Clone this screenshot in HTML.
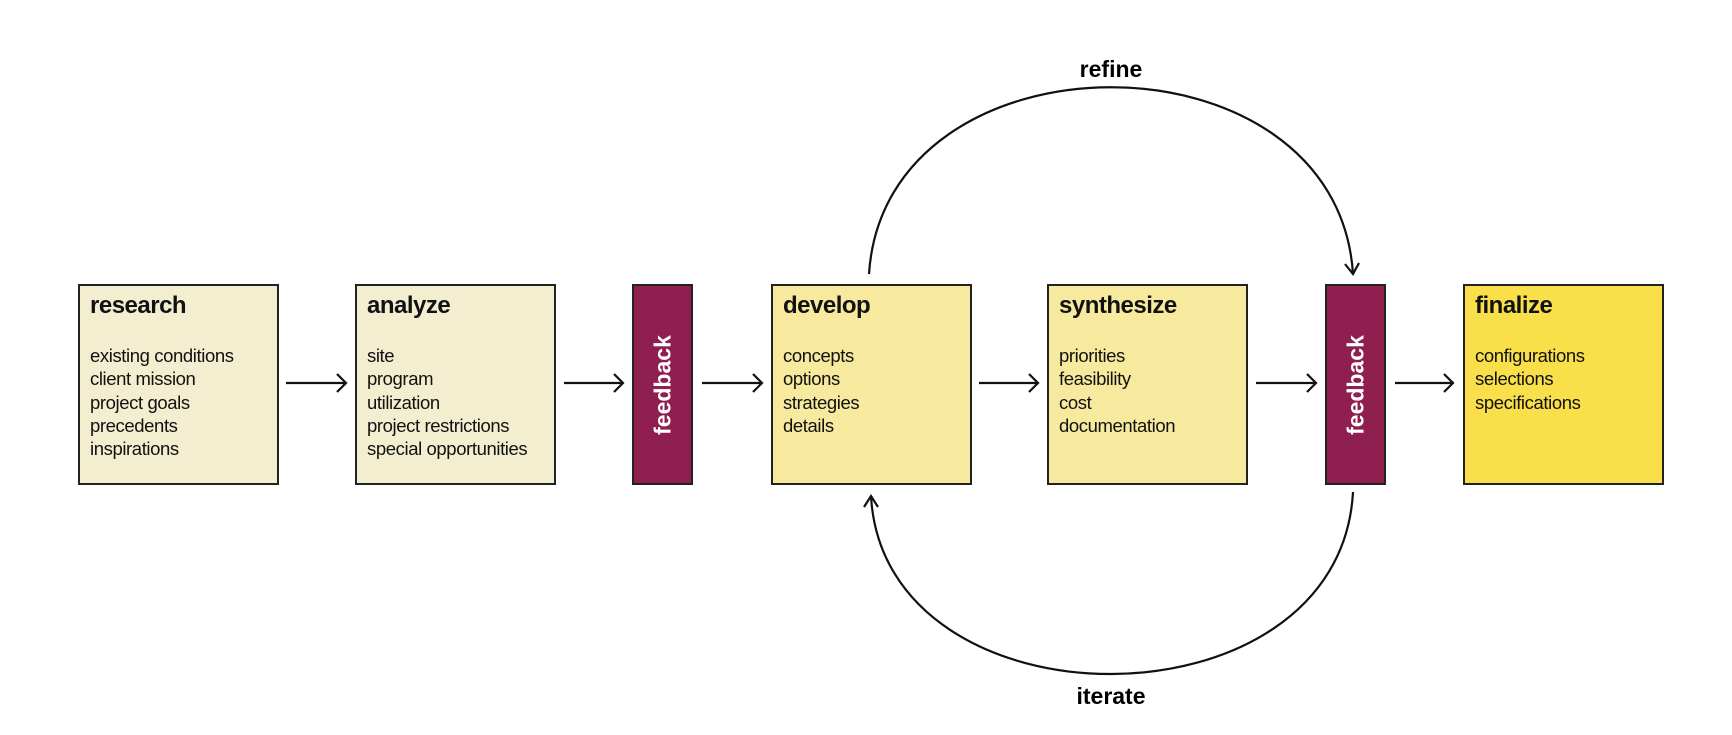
<!DOCTYPE html>
<html><head><meta charset="utf-8"><style>
body{margin:0;width:1732px;height:735px;background:#fff;overflow:hidden;position:relative;font-family:"Liberation Sans",Arial,sans-serif;}
.b{position:absolute;top:284px;height:197px;border:2px solid #222;box-sizing:content-box;color:#111;}
.b h{display:block;position:absolute;left:10px;top:6px;font-weight:bold;font-size:24px;letter-spacing:-0.5px;}
.b ul{position:absolute;left:10px;top:58px;margin:0;padding:0;list-style:none;font-size:18.5px;line-height:23.3px;letter-spacing:-0.4px;}
.f{position:absolute;top:284px;height:197px;width:57px;background:#8e1f4f;border:2px solid #222;}
.f span{position:absolute;left:50%;top:50%;transform:translate(-50%,-50%) rotate(-90deg);color:#fff;font-weight:bold;font-size:23px;white-space:nowrap;}
.l{position:absolute;font-weight:bold;font-size:23px;transform:translateX(-50%);}
</style></head><body>
<div class="b" style="left:78px;width:197px;background:#f3eed0"><h>research</h><ul><li>existing conditions</li><li>client mission</li><li>project goals</li><li>precedents</li><li>inspirations</li></ul></div>
<div class="b" style="left:355px;width:197px;background:#f3eed0"><h>analyze</h><ul><li>site</li><li>program</li><li>utilization</li><li>project restrictions</li><li>special opportunities</li></ul></div>
<div class="f" style="left:632px"><span>feedback</span></div>
<div class="b" style="left:771px;width:197px;background:#f7e99d"><h>develop</h><ul><li>concepts</li><li>options</li><li>strategies</li><li>details</li></ul></div>
<div class="b" style="left:1047px;width:197px;background:#f7e99d"><h>synthesize</h><ul><li>priorities</li><li>feasibility</li><li>cost</li><li>documentation</li></ul></div>
<div class="f" style="left:1325px"><span>feedback</span></div>
<div class="b" style="left:1463px;width:197px;background:#f9df4a"><h>finalize</h><ul><li>configurations</li><li>selections</li><li>specifications</li></ul></div>
<div class="l" style="left:1111px;top:56px">refine</div>
<div class="l" style="left:1111px;top:683px">iterate</div>
<svg width="1732" height="735" style="position:absolute;left:0;top:0" fill="none" stroke="#111" stroke-width="2.2">
<g>
<path d="M286 383H346M337 374l9 9-9 9"/>
<path d="M564 383H623M614 374l9 9-9 9"/>
<path d="M702 383H762M753 374l9 9-9 9"/>
<path d="M979 383H1038M1029 374l9 9-9 9"/>
<path d="M1256 383H1316M1307 374l9 9-9 9"/>
<path d="M1395 383H1453M1444 374l9 9-9 9"/>
</g>
<path d="M869 274C885 25 1337 25 1353 274"/>
<path d="M1345 264l8 10 6-11"/>
<path d="M1353 492C1340 734 884 734 871 496"/>
<path d="M864 507l7-11 7 11"/>
</svg>
</body></html>
